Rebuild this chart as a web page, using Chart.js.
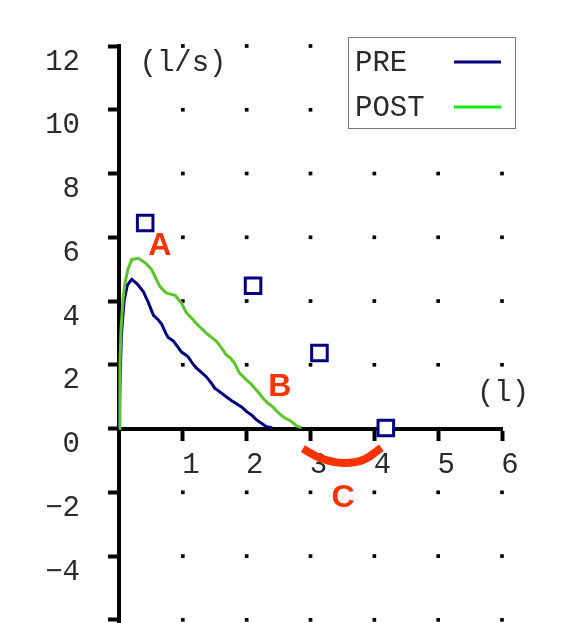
<!DOCTYPE html>
<html><head><meta charset="utf-8">
<style>html,body{margin:0;padding:0;background:#fff;overflow:hidden;height:623px}canvas{display:block}</style>
<script src="https://cdn.jsdelivr.net/npm/chart.js@4.4.0/dist/chart.umd.min.js"></script>
</head><body>
<canvas id="c" width="588" height="638"></canvas>
<script>
// ---- data ----
const xTicks = [1, 2, 3, 4, 5, 6];
const yTicks = [12, 10, 8, 6, 4, 2, 0, -2, -4, -6];
const dotRows = [12, 10, 8, 6, 4, 2, -2, -4, -6];
const xUnit = '(l)';
const yUnit = '(l/s)';
const seriesNames = ['PRE', 'POST'];

const preVolume = [0, 0.02, 0.04, 0.08, 0.13, 0.2, 0.28, 0.38, 0.46, 0.54, 0.62, 0.67, 0.73, 0.77, 0.85, 0.9, 0.98, 1.08, 1.15, 1.21, 1.3, 1.37, 1.45, 1.5, 1.58, 1.68, 1.76, 1.84, 1.92, 2.0, 2.08, 2.15, 2.22, 2.31, 2.4];
const preFlow   = [0, 1.8, 3.0, 4.0, 4.5, 4.68, 4.55, 4.3, 3.95, 3.55, 3.4, 3.27, 3.0, 2.86, 2.75, 2.62, 2.4, 2.26, 2.05, 1.9, 1.75, 1.62, 1.42, 1.27, 1.15, 1.0, 0.88, 0.78, 0.68, 0.53, 0.42, 0.28, 0.18, 0.06, 0.03];

const postVolume = [0, 0.015, 0.03, 0.06, 0.09, 0.14, 0.2, 0.3, 0.41, 0.51, 0.58, 0.64, 0.7, 0.75, 0.88, 0.93, 0.98, 1.06, 1.13, 1.21, 1.29, 1.37, 1.45, 1.53, 1.6, 1.68, 1.75, 1.81, 1.89, 1.95, 2.0, 2.07, 2.13, 2.2, 2.26, 2.33, 2.41, 2.47, 2.54, 2.6, 2.67, 2.73, 2.78, 2.86];
const postFlow   = [0, 2.0, 3.05, 4.0, 4.52, 5.0, 5.3, 5.34, 5.2, 4.99, 4.7, 4.46, 4.33, 4.25, 4.18, 4.05, 3.93, 3.62, 3.48, 3.3, 3.14, 2.99, 2.86, 2.73, 2.55, 2.31, 2.2, 2.05, 1.73, 1.62, 1.52, 1.4, 1.26, 1.1, 0.94, 0.8, 0.68, 0.55, 0.42, 0.33, 0.26, 0.18, 0.08, 0.03];

const predVolume = [0.41, 2.10, 3.14, 4.18];
const predFlow   = [6.45, 4.48, 2.37, 0.02];

const arcVolume = [2.88, 3.17, 3.52, 3.84, 4.11];
const arcFlow   = [-0.63, -0.94, -1.08, -0.97, -0.6];

const noteText   = ['A', 'B', 'C'];
const noteVolume = [0.64, 2.52, 3.51];
const noteFlow   = [5.75, 1.32, -2.14];

// ---- build ----
const zip = (xs, ys) => xs.map((v, i) => ({x: v, y: ys[i]}));
const dots = [];
dotRows.forEach(r => xTicks.forEach(c => dots.push({x: c, y: r})));

const MONO = '"Liberation Mono", "DejaVu Sans Mono", monospace';
const FS = 29;
const TXT = '#2a2a2a';
const NAVY = '#000080';
const GREEN = '#5cc52a';
const LEGEND_GREEN = '#11ee11';
const RED = '#ff3300';

const annot = {
  id: 'annot',
  afterDatasetsDraw(chart) {
    const {ctx, chartArea: a, scales: {x, y}} = chart;
    ctx.save();
    ctx.textAlign = 'center';
    ctx.textBaseline = 'middle';
    ctx.font = 'bold 32px "Liberation Sans", Arial, sans-serif';
    ctx.fillStyle = RED;
    noteText.forEach((t, i) => ctx.fillText(t, x.getPixelForValue(noteVolume[i]), y.getPixelForValue(noteFlow[i]) + 1));

    ctx.font = FS + 'px ' + MONO;
    ctx.fillStyle = TXT;
    ctx.fillText(yUnit, a.left + 64, a.top + 17);
    ctx.fillText(xUnit, a.right + 1, y.getPixelForValue(0) - 35);

    // legend
    const lx = a.left + 229, ly = a.top - 9, lw = 167, lh = 91;
    ctx.fillStyle = '#fff';
    ctx.fillRect(lx, ly, lw, lh);
    ctx.strokeStyle = '#777';
    ctx.lineWidth = 1;
    ctx.strokeRect(lx + 0.5, ly + 0.5, lw, lh);
    const cols = [NAVY, LEGEND_GREEN];
    seriesNames.forEach((n, i) => {
      const cy = ly + 25 + i * 45;
      ctx.fillStyle = TXT;
      ctx.textAlign = 'left';
      ctx.fillText(n, lx + 7, cy + 1);
      ctx.strokeStyle = cols[i];
      ctx.lineWidth = 3;
      ctx.beginPath();
      ctx.moveTo(lx + 106, cy);
      ctx.lineTo(lx + 153, cy);
      ctx.stroke();
    });
    ctx.restore();
  }
};

const tickFmt = v => v < 0 ? '\u2212' + Math.abs(v) : String(v);

new Chart(document.getElementById('c'), {
  type: 'scatter',
  data: {
    datasets: [
      {label: 'grid', data: dots, pointStyle: 'rect', pointRadius: 2.6, backgroundColor: '#000', borderWidth: 0, order: 5, clip: false},
      {label: seriesNames[0], data: zip(preVolume, preFlow), showLine: true, borderColor: NAVY, borderWidth: 3, pointRadius: 0, order: 3, clip: false},
      {label: seriesNames[1], data: zip(postVolume, postFlow), showLine: true, borderColor: GREEN, borderWidth: 3, pointRadius: 0, order: 2, clip: false},
      {label: 'pred', data: zip(predVolume, predFlow), pointStyle: 'rect', pointRadius: 11, borderColor: NAVY, backgroundColor: '#fff', borderWidth: 3, order: 1, clip: false},
      {label: 'arc', data: zip(arcVolume, arcFlow), showLine: true, borderColor: RED, borderWidth: 8, tension: 0.4, pointRadius: 0, borderCapStyle: 'butt', order: 1, clip: false}
    ]
  },
  options: {
    responsive: false,
    animation: false,
    events: [],
    layout: {padding: {left: 0, top: 46, right: 86, bottom: 0}},
    plugins: {legend: {display: false}, tooltip: {enabled: false}},
    scales: {
      x: {
        type: 'linear', min: 0, max: 6, position: {y: 0},
        afterBuildTicks: s => { s.ticks = xTicks.map(v => ({value: v})); },
        afterFit: s => { s.height = 0; s.paddingLeft = 0; s.paddingRight = 0; s.paddingTop = 0; s.paddingBottom = 0; },
        grid: {drawOnChartArea: false, drawTicks: true, tickLength: 10, tickWidth: 4, tickColor: '#000'},
        border: {display: true, width: 4, color: '#000'},
        ticks: {labelOffset: 8, padding: 9, font: {family: MONO, size: FS}, color: TXT, maxRotation: 0, autoSkip: false, callback: tickFmt}
      },
      y: {
        type: 'linear', min: -6.13, max: 12,
        afterBuildTicks: s => { s.ticks = yTicks.map(v => ({value: v})); },
        afterFit: s => { s.width = 119; s.paddingTop = 0; s.paddingBottom = 0; s.paddingLeft = 0; s.paddingRight = 0; },
        grid: {drawOnChartArea: false, drawTicks: true, tickLength: 11, tickWidth: 4, tickColor: '#000'},
        border: {display: true, width: 4, color: '#000'},
        ticks: {labelOffset: 16, padding: 28, font: {family: MONO, size: FS}, color: TXT, autoSkip: false, callback: tickFmt}
      }
    }
  },
  plugins: [annot]
});
</script>
</body></html>
